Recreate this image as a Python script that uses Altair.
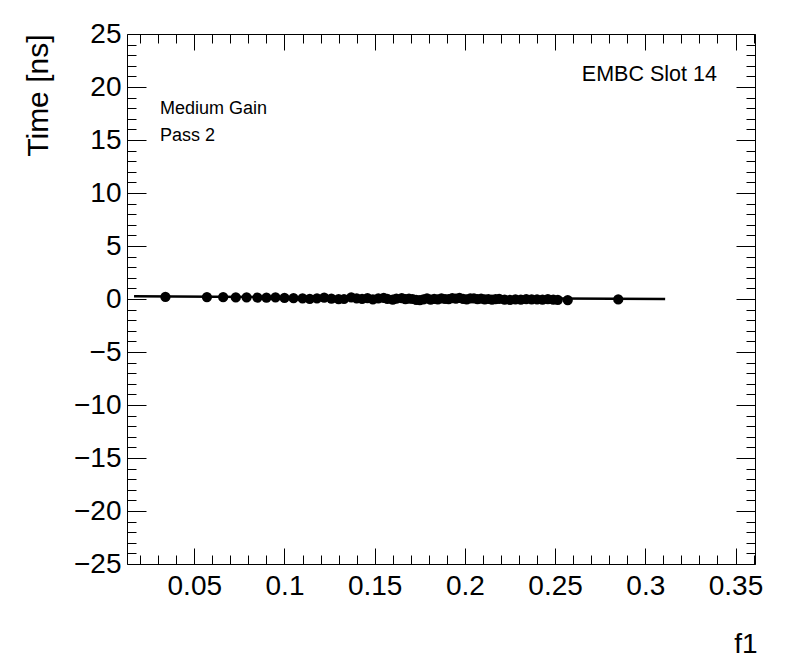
import altair as alt
import pandas as pd

# ---- data ----
f1_values = [0.034, 0.057, 0.066, 0.073, 0.079, 0.085, 0.090, 0.095, 0.100, 0.105,
             0.110, 0.114, 0.118, 0.122, 0.126, 0.130, 0.133, 0.137, 0.140, 0.143,
             0.146, 0.149, 0.152, 0.155, 0.157, 0.160, 0.162, 0.165, 0.167, 0.169,
             0.171, 0.173, 0.175, 0.177, 0.179, 0.181, 0.183, 0.185, 0.187, 0.189,
             0.191, 0.193, 0.195, 0.197, 0.199, 0.201, 0.203, 0.205, 0.207, 0.209,
             0.211, 0.213, 0.215, 0.217, 0.219, 0.222, 0.225, 0.228, 0.231, 0.234,
             0.237, 0.240, 0.243, 0.246, 0.249, 0.2515, 0.257, 0.285]
time_values = [0.20, 0.18, 0.17, 0.15, 0.16, 0.14, 0.12, 0.15, 0.10, 0.08,
               0.05, 0.02, 0.06, 0.12, 0.04, -0.02, 0.00, 0.15, 0.05, 0.02,
               0.08, -0.04, 0.06, 0.10, 0.02, -0.05, 0.04, 0.08, -0.02, 0.03,
               0.00, -0.08, -0.10, -0.03, 0.05, -0.06, 0.02, -0.04, 0.06, 0.00,
               -0.02, 0.08, 0.04, 0.10, 0.02, -0.03, 0.05, 0.07, -0.01, 0.03,
               -0.04, 0.00, -0.06, -0.02, 0.02, -0.05, -0.08, -0.03, -0.06, -0.02,
               -0.04, -0.03, -0.05, -0.02, -0.06, -0.08, -0.10, -0.04]

fit_f1 = [0.0166, 0.311]
fit_time = [0.25, 0.0]

x_major = [0.05, 0.1, 0.15, 0.2, 0.25, 0.3, 0.35]
x_minor = [0.02, 0.03, 0.04, 0.05, 0.06, 0.07, 0.08, 0.09, 0.1, 0.11, 0.12, 0.13,
           0.14, 0.15, 0.16, 0.17, 0.18, 0.19, 0.2, 0.21, 0.22, 0.23, 0.24, 0.25,
           0.26, 0.27, 0.28, 0.29, 0.3, 0.31, 0.32, 0.33, 0.34, 0.35, 0.36]
y_major = [-25, -20, -15, -10, -5, 0, 5, 10, 15, 20, 25]
y_minor = list(range(-24, 25))

left_labels = ["Medium Gain", "Pass 2"]
left_label_f1 = [0.031, 0.031]
left_label_time = [17.45, 14.95]
right_labels = ["EMBC Slot 14"]
right_label_f1 = [0.2648]
right_label_time = [20.6]

x_domain = [0.0127, 0.3608]
y_domain = [-25, 25]

FONT = "Liberation Sans"

points_df = pd.DataFrame({"f1": f1_values, "time": time_values})
fit_df = pd.DataFrame({"f1": fit_f1, "time": fit_time})
ltext_df = pd.DataFrame({"f1": left_label_f1, "time": left_label_time, "label": left_labels})
rtext_df = pd.DataFrame({"f1": right_label_f1, "time": right_label_time, "label": right_labels})

xs = alt.Scale(domain=x_domain, nice=False, zero=False)
ys = alt.Scale(domain=y_domain, nice=False, zero=False)

common = dict(domain=False, grid=False, tickColor="black", tickWidth=1,
              labelColor="black", labelFont=FONT, labelFlush=False, labelOverlap=False)

ax_bottom = alt.Axis(orient="bottom", values=x_major, format="~g", offset=-16, tickSize=16,
                     labelPadding=8, labelFontSize=28, title="f1", titleFont=FONT,
                     titleFontSize=28, titleFontWeight="normal", titleColor="black",
                     titleAnchor="end", titleAlign="right", titleBaseline="alphabetic",
                     titleX=630, titleY=104, **common)
ax_left = alt.Axis(orient="left", values=y_major, format="d", offset=-19, tickSize=19,
                   labelPadding=6, labelFontSize=28, title="Time [ns]", titleFont=FONT,
                   titleFontSize=30, titleFontWeight="normal", titleColor="black",
                   titleAngle=270, titleAlign="right", titleBaseline="alphabetic",
                   titleX=-99, titleY=0, **common)
ax_top = alt.Axis(orient="top", values=x_major, offset=-16, tickSize=16, labels=False,
                  title=None, **common)
ax_right = alt.Axis(orient="right", values=y_major, offset=-19, tickSize=19, labels=False,
                    title=None, **common)
ax_bottom_minor = alt.Axis(orient="bottom", values=x_minor, offset=-9, tickSize=9,
                           labels=False, title=None, **common)
ax_left_minor = alt.Axis(orient="left", values=y_minor, offset=-9, tickSize=9,
                         labels=False, title=None, **common)
ax_top_minor = alt.Axis(orient="top", values=x_minor, offset=-9, tickSize=9,
                        labels=False, title=None, **common)
ax_right_minor = alt.Axis(orient="right", values=y_minor, offset=-9, tickSize=9,
                          labels=False, title=None, **common)

fit_layer = alt.Chart(fit_df).mark_line(color="black", strokeWidth=2.5).encode(
    x=alt.X("f1:Q", scale=xs, axis=ax_top),
    y=alt.Y("time:Q", scale=ys, axis=ax_right),
)

points_layer = alt.Chart(points_df).mark_point(
    filled=True, shape="circle", size=105, color="black", opacity=1
).encode(
    x=alt.X("f1:Q", scale=xs, axis=ax_bottom),
    y=alt.Y("time:Q", scale=ys, axis=ax_left),
)

ltext_layer = alt.Chart(ltext_df).mark_text(
    align="left", baseline="alphabetic", font=FONT, fontSize=18, color="black"
).encode(
    x=alt.X("f1:Q", scale=xs, axis=ax_bottom_minor),
    y=alt.Y("time:Q", scale=ys, axis=ax_left_minor),
    text="label:N",
)

rtext_layer = alt.Chart(rtext_df).mark_text(
    align="left", baseline="alphabetic", font=FONT, fontSize=21.5, color="black"
).encode(
    x=alt.X("f1:Q", scale=xs, axis=ax_top_minor),
    y=alt.Y("time:Q", scale=ys, axis=ax_right_minor),
    text="label:N",
)

chart = alt.layer(points_layer, fit_layer, ltext_layer, rtext_layer).resolve_axis(
    x="independent", y="independent"
).properties(
    width=628,
    height=530,
    autosize=alt.AutoSizeParams(type="none"),
    padding={"left": 119, "top": 26, "right": 33, "bottom": 100},
    background="white",
).configure_view(stroke="black", strokeWidth=1)

chart.save("out.html", embed_options={"renderer": "svg", "actions": False})
